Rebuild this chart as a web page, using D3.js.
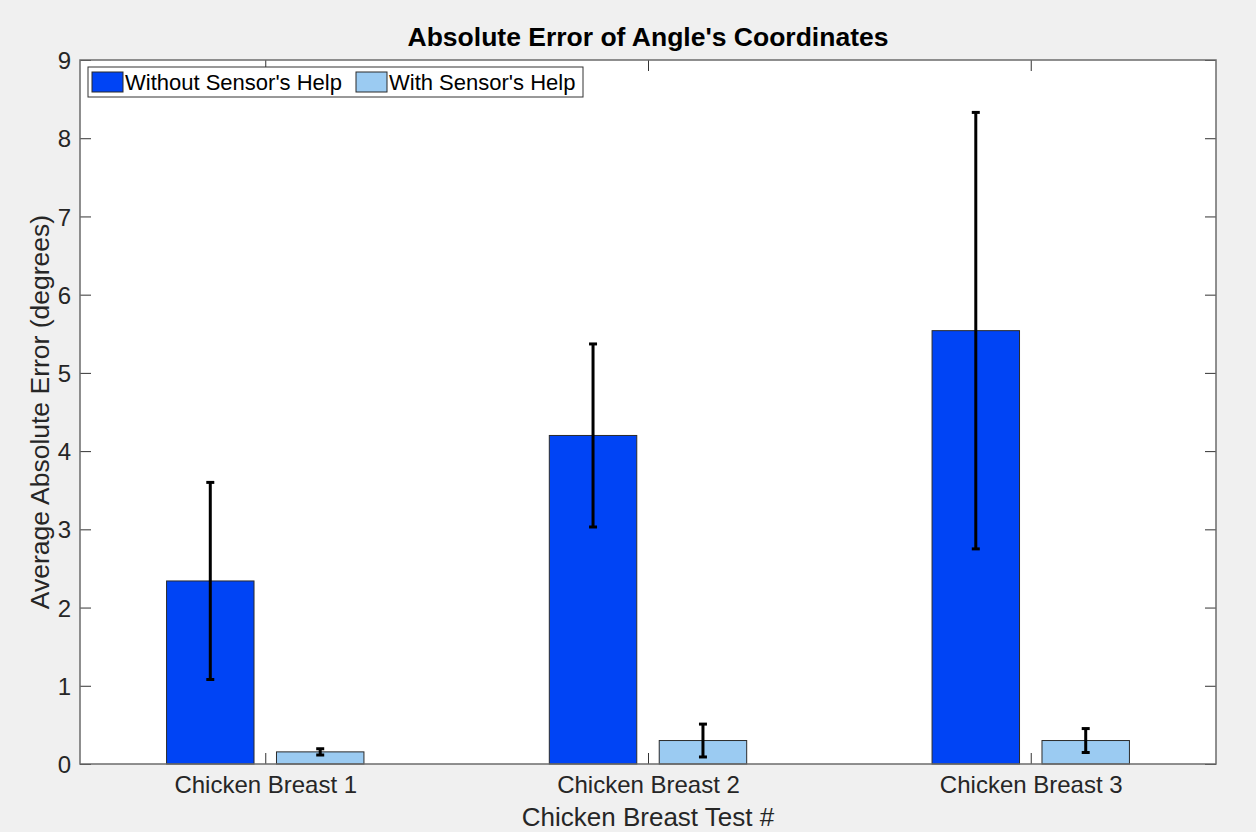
<!DOCTYPE html>
<html>
<head>
    <meta charset="utf-8">
    <script src="https://d3js.org/d3.v7.min.js"></script>
    <title>Absolute Error of Angle's Coordinates</title>
    <style>
        body {
            margin: 0;
            background: #f0f0f0;
            font-family: "Liberation Sans", Arial, Helvetica, sans-serif;
        }
        .tick text { fill: #262626; }
    </style>
</head>
<body>
    <svg id="chart" width="1256" height="832"></svg>

    <script>
        // data
        const categories = ["Chicken Breast 1", "Chicken Breast 2", "Chicken Breast 3"];
        const seriesNames = ["Without Sensor's Help", "With Sensor's Help"];
        const withoutMean = [2.34, 4.20, 5.54];
        const withoutErr = [1.26, 1.17, 2.79];
        const withMean = [0.155, 0.30, 0.30];
        const withErr = [0.04, 0.21, 0.153];
        const yTicks = [0, 1, 2, 3, 4, 5, 6, 7, 8, 9];

        const colors = ["#0044f5", "#9bcbf2"];

        function draw() {
            var svg = d3.select("#chart");
            // plot box edges (window.top is taken, so no "top" here)
            var pLeft = 80, pRight = 1216, pTop = 60, pBottom = 764;

            // x positions are category numbers 1..3 like matlab's bar()
            var x = d3.scaleLinear().domain([0.516, 3.484]).range([pLeft, pRight]);
            var y = d3.scaleLinear().domain([0, 9]).range([pBottom, pTop]);

            var barOffset = 0.1436, barWidth = 0.2285;

            // plot area
            svg.append("rect")
                .attr("x", pLeft).attr("y", pTop)
                .attr("width", pRight - pLeft).attr("height", pBottom - pTop)
                .attr("fill", "white");

            var rows = [];
            categories.forEach(function (c, i) {
                rows.push({ cat: i + 1, s: 0, v: withoutMean[i], e: withoutErr[i] });
                rows.push({ cat: i + 1, s: 1, v: withMean[i], e: withErr[i] });
            });

            function cx(d) { return d.cat + (d.s == 0 ? -barOffset : barOffset); }

            svg.append("g").selectAll("rect").data(rows).enter().append("rect")
                .attr("x", function (d) { return x(cx(d) - barWidth / 2); })
                .attr("y", function (d) { return y(d.v); })
                .attr("width", x(barWidth) - x(0))
                .attr("height", function (d) { return y(0) - y(d.v); })
                .attr("fill", function (d) { return colors[d.s]; })
                .attr("stroke", "#2b2b2b")
                .attr("stroke-width", 1);

            // error bars
            var eb = svg.append("g").selectAll("g").data(rows).enter().append("g")
                .attr("stroke", "black")
                .attr("stroke-width", 3);
            eb.append("line")
                .attr("x1", function (d) { return x(cx(d)); })
                .attr("x2", function (d) { return x(cx(d)); })
                .attr("y1", function (d) { return y(d.v + d.e); })
                .attr("y2", function (d) { return y(d.v - d.e); });
            [1, -1].forEach(function (sign) {
                eb.append("line")
                    .attr("x1", function (d) { return x(cx(d)) - 4; })
                    .attr("x2", function (d) { return x(cx(d)) + 4; })
                    .attr("y1", function (d) { return y(d.v + sign * d.e); })
                    .attr("y2", function (d) { return y(d.v + sign * d.e); });
            });

            // axes, ticks pointing inward
            var yAxis = svg.append("g")
                .attr("transform", "translate(" + pLeft + ",0)")
                .call(d3.axisLeft(y).tickValues(yTicks).tickSize(-11).tickPadding(9).tickFormat(d3.format("d")));
            var xAxis = svg.append("g")
                .attr("transform", "translate(0," + pBottom + ")")
                .call(d3.axisBottom(x).tickValues([1, 2, 3]).tickSize(-11).tickPadding(12)
                    .tickFormat(function (d) { return categories[d - 1]; }));
            var xTop = svg.append("g")
                .attr("transform", "translate(0," + pTop + ")")
                .call(d3.axisTop(x).tickValues([1, 2, 3]).tickSize(-11).tickFormat(""));
            var yRight = svg.append("g")
                .attr("transform", "translate(" + pRight + ",0)")
                .call(d3.axisRight(y).tickValues(yTicks).tickSize(-11).tickFormat(""));

            [yAxis, xAxis, xTop, yRight].forEach(function (g) {
                g.select(".domain").remove();
                g.selectAll(".tick line").attr("stroke", "#333");
                g.selectAll("text")
                    .style("font-size", "24px")
                    .style("font-family", "Liberation Sans, Arial, sans-serif");
            });
            yAxis.selectAll("text").attr("dy", "0.36em");

            // box
            svg.append("rect")
                .attr("x", pLeft).attr("y", pTop)
                .attr("width", pRight - pLeft).attr("height", pBottom - pTop)
                .attr("fill", "none")
                .attr("stroke", "#6b6b6b")
                .attr("stroke-width", 1.5);

            // title and labels
            svg.append("text")
                .attr("x", (pLeft + pRight) / 2).attr("y", 46)
                .attr("text-anchor", "middle")
                .style("font-size", "26.5px").style("font-weight", "bold")
                .text("Absolute Error of Angle's Coordinates");

            svg.append("text")
                .attr("x", (pLeft + pRight) / 2).attr("y", 826)
                .attr("text-anchor", "middle")
                .style("font-size", "26px").attr("fill", "#262626")
                .text("Chicken Breast Test #");

            svg.append("text")
                .attr("transform", "translate(49," + (pTop + pBottom) / 2 + ") rotate(-90)")
                .attr("text-anchor", "middle")
                .style("font-size", "26.5px").attr("fill", "#262626")
                .text("Average Absolute Error (degrees)");

            // legend
            var legend = svg.append("g");
            legend.append("rect")
                .attr("x", 88).attr("y", 67).attr("width", 495).attr("height", 30)
                .attr("fill", "white").attr("stroke", "#333").attr("stroke-width", 1);
            var legendX = [92, 356];
            seriesNames.forEach(function (name, i) {
                legend.append("rect")
                    .attr("x", legendX[i]).attr("y", 72).attr("width", 31).attr("height", 20)
                    .attr("fill", colors[i]).attr("stroke", "#2b2b2b").attr("stroke-width", 1);
                legend.append("text")
                    .attr("x", legendX[i] + 33).attr("y", 90)
                    .style("font-size", "22px")
                    .text(name);
            });
        }

        draw();
    </script>
</body>
</html>
